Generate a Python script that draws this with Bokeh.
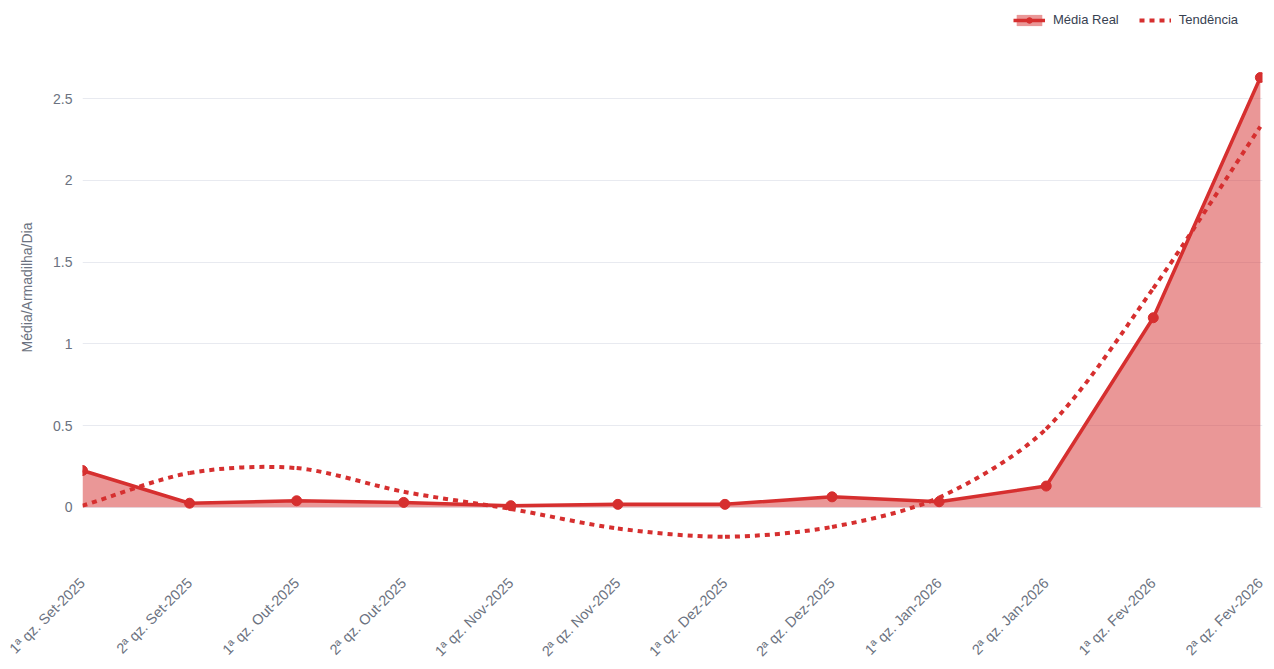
import numpy as np
from bokeh.plotting import figure
from bokeh.models import (Range1d, FixedTicker, CustomJSTickFormatter, Legend,
                          LegendItem, ColumnDataSource)
from bokeh.embed import file_html
from bokeh.resources import INLINE

categories = ["1ª qz. Set-2025", "2ª qz. Set-2025", "1ª qz. Out-2025", "2ª qz. Out-2025",
              "1ª qz. Nov-2025", "2ª qz. Nov-2025", "1ª qz. Dez-2025", "2ª qz. Dez-2025",
              "1ª qz. Jan-2026", "2ª qz. Jan-2026", "1ª qz. Fev-2026", "2ª qz. Fev-2026"]
media_real = [0.225, 0.025, 0.04, 0.03, 0.01, 0.018, 0.018, 0.064, 0.034, 0.13, 1.16, 2.63]
tendencia = [0.01, 0.21, 0.24, 0.095, -0.01, -0.13, -0.18, -0.12, 0.06, 0.48, 1.34, 2.33]
y_ticks = [0, 0.5, 1, 1.5, 2, 2.5]

RED = "#d62f2f"
TICK = "#6b7280"
FONT = "Liberation Sans"

x = list(range(len(categories)))

W, H = 1270, 669
BL, BR, BT, BB = 82, 8, 10, 105
X_END, Y0, Y1 = 11.02, -0.35, 3.04
p = figure(width=W, height=H, output_backend="svg", toolbar_location=None,
           title=None, x_range=Range1d(0, X_END), y_range=Range1d(Y0, Y1),
           min_border_left=BL, min_border_right=BR, min_border_top=BT,
           min_border_bottom=BB)
p.outline_line_color = None
p.background_fill_color = "white"
p.border_fill_color = "white"

# axes
p.xaxis.ticker = FixedTicker(ticks=x)
p.xaxis.major_label_overrides = {i: c for i, c in zip(x, categories)}
p.xaxis.major_label_orientation = np.pi / 4
p.yaxis.ticker = FixedTicker(ticks=y_ticks)
p.yaxis.formatter = CustomJSTickFormatter(code="return tick.toString();")
for ax in (p.xaxis, p.yaxis):
    ax.axis_line_color = None
    ax.major_tick_line_color = None
    ax.minor_tick_line_color = None
    ax.major_tick_out = 0
    ax.major_tick_in = 0
    ax.major_label_text_color = TICK
    ax.major_label_text_font = FONT
    ax.major_label_text_font_size = "14px"
p.xaxis.major_label_text_font_size = "14.5px"
p.xaxis.major_label_standoff = 16
p.yaxis.major_label_standoff = 10
p.yaxis.axis_label = "Média/Armadilha/Dia"
p.yaxis.axis_label_text_font = FONT
p.yaxis.axis_label_text_font_size = "14px"
p.yaxis.axis_label_text_font_style = "normal"
p.yaxis.axis_label_text_color = TICK
p.yaxis.axis_label_standoff = 15

p.xgrid.grid_line_color = None
p.ygrid.grid_line_color = "#e8eaf0"
p.ygrid.grid_line_width = 1

src = ColumnDataSource(dict(x=x, y=media_real, t=tendencia))

area = p.varea(x="x", y1=0, y2="y", source=src, fill_color=RED, fill_alpha=0.5)
line = p.line(x="x", y="y", source=src, line_color=RED, line_width=3.5)
pts = p.scatter(x="x", y="y", source=src, size=10, fill_color=RED, line_color=RED)

# smoothed trend line (Chart.js-like tension spline) drawn with bezier segments
frame_w = W - BL - BR
frame_h = H - BT - BB
sx = frame_w / X_END
sy = frame_h / (Y1 - Y0)
px = np.array(x, dtype=float) * sx
py = np.array(tendencia) * sy
n = len(px)
t = 0.3
cpn = np.zeros((n, 2))
cpp = np.zeros((n, 2))
for i in range(n):
    pr = np.array([px[max(i - 1, 0)], py[max(i - 1, 0)]])
    cu = np.array([px[i], py[i]])
    nx = np.array([px[min(i + 1, n - 1)], py[min(i + 1, n - 1)]])
    d01 = np.hypot(*(cu - pr))
    d12 = np.hypot(*(nx - cu))
    tot = d01 + d12
    s01 = d01 / tot if tot else 0
    s12 = d12 / tot if tot else 0
    cpp[i] = cu - t * s01 * (nx - pr)
    cpn[i] = cu + t * s12 * (nx - pr)
bsrc = ColumnDataSource(dict(
    x0=px[:-1] / sx, y0=py[:-1] / sy, x1=px[1:] / sx, y1=py[1:] / sy,
    cx0=cpn[:-1, 0] / sx, cy0=cpn[:-1, 1] / sy,
    cx1=cpp[1:, 0] / sx, cy1=cpp[1:, 1] / sy))
trend = p.bezier(x0="x0", y0="y0", x1="x1", y1="y1", cx0="cx0", cy0="cy0",
                 cx1="cx1", cy1="cy1", source=bsrc, line_color=RED,
                 line_width=4, line_dash="5 5")

legend = Legend(items=[LegendItem(label="Média Real", renderers=[area, line, pts]),
                       LegendItem(label="Tendência", renderers=[trend])],
                location=(931, frame_h - 17), orientation="horizontal",
                background_fill_alpha=0, border_line_color=None,
                padding=0, margin=0, spacing=20, glyph_width=32,
                glyph_height=14, label_standoff=8, label_height=14,
                label_text_font=FONT, label_text_font_size="13px",
                label_text_color="#374151")
p.add_layout(legend, "center")

open("out.html", "w").write(file_html(p, INLINE))
